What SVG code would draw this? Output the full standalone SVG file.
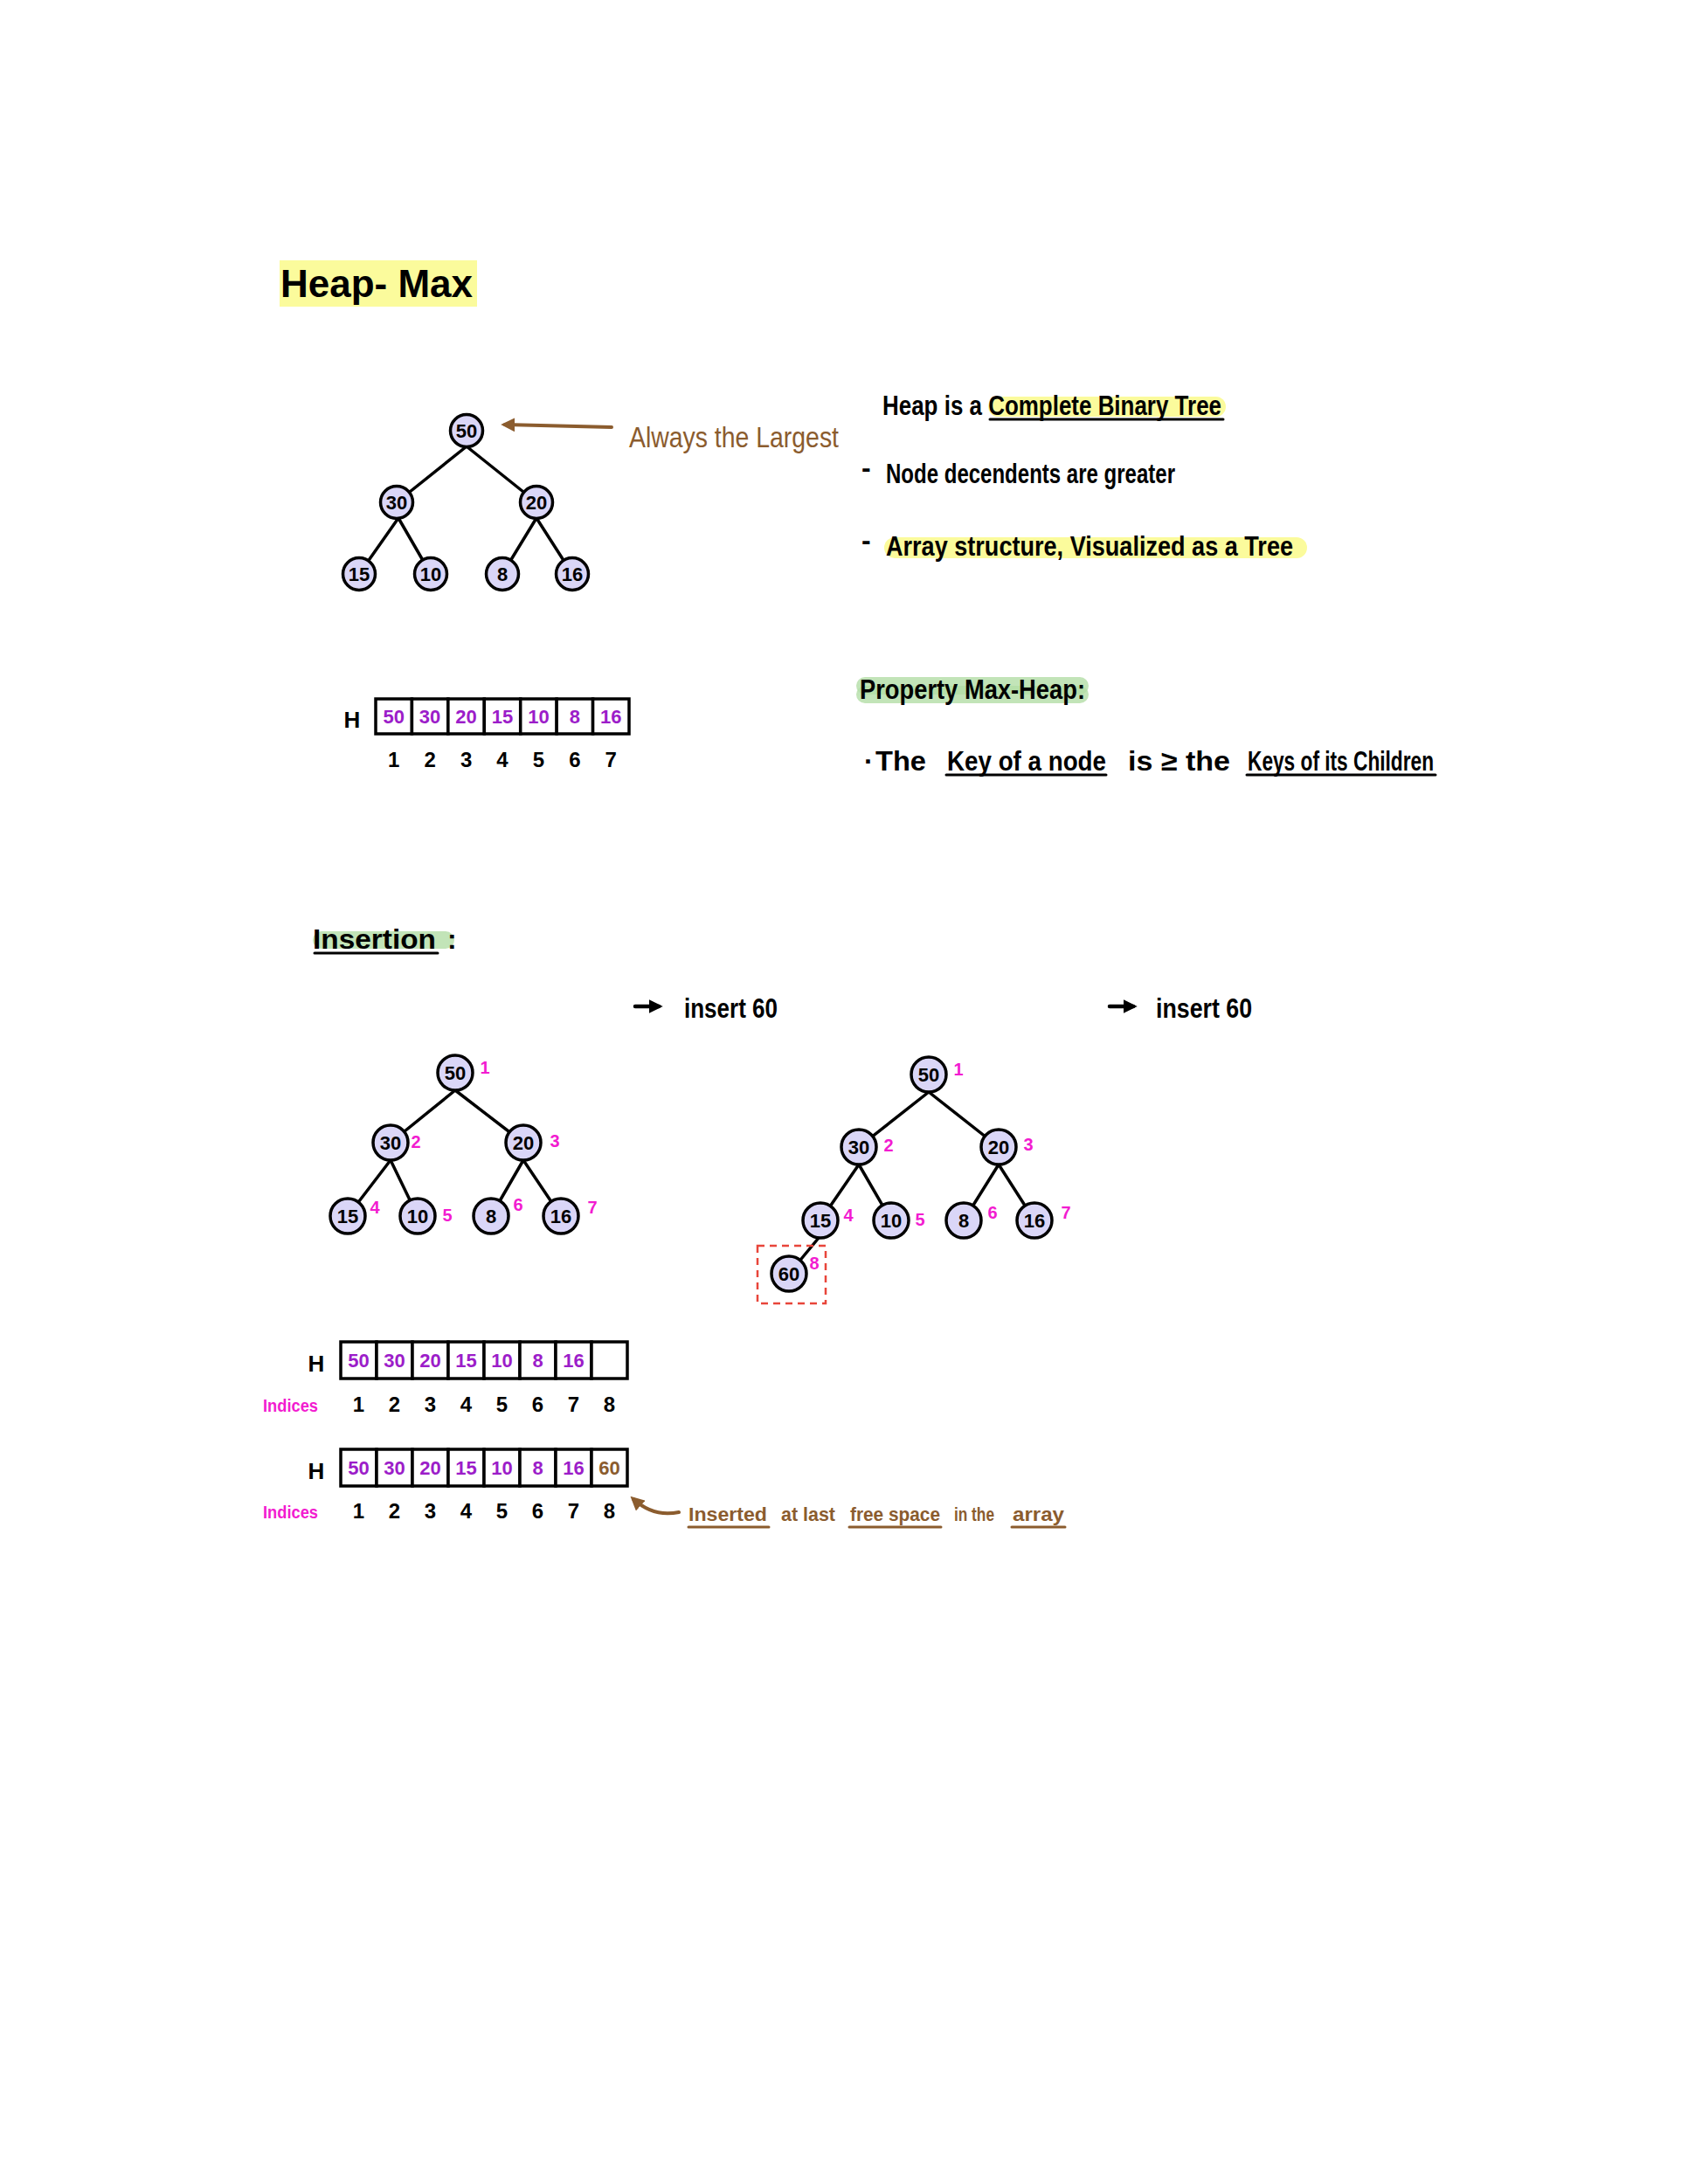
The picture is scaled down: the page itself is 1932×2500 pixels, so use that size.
<svg xmlns="http://www.w3.org/2000/svg" width="1932" height="2500" viewBox="0 0 1932 2500">
<style>
.node circle{fill:#dad6f7;stroke:#000;stroke-width:3.5}
.node text{font-family:"Liberation Sans",sans-serif;font-weight:bold;font-size:22px;text-anchor:middle;fill:#000}
.node text.idx{font-family:"Liberation Sans",sans-serif;font-weight:bold;font-size:20px;fill:#f21cd0;text-anchor:middle}
.edge{stroke:#000;stroke-width:3.5;stroke-linecap:round}
.cell{fill:#fff;stroke:#000;stroke-width:3.5}
.cv{font-family:"Liberation Sans",sans-serif;font-weight:bold;font-size:22px;fill:#9c1dc9;text-anchor:middle}
.cv.new{fill:#8b5c2e}
.num{font-family:"Liberation Sans",sans-serif;font-weight:bold;font-size:24px;fill:#000;text-anchor:middle}
.hw{font-family:"Liberation Sans",sans-serif;font-size:32px;font-weight:bold;fill:#000}
.hwb{font-family:"Liberation Sans",sans-serif;font-size:34px;fill:#8b5c2e}
.note{font-family:"Liberation Sans",sans-serif;font-size:22px;font-weight:bold;fill:#8b5c2e}
.ul{stroke:#000;stroke-width:3;stroke-linecap:round}
.ulb{stroke:#8b5c2e;stroke-width:3;stroke-linecap:round}
.hy{fill:#fbfb9c}
.hg{fill:#b3dda6;opacity:0.8}
.H{font-family:"Liberation Sans",sans-serif;font-weight:bold;font-size:26px;fill:#000;text-anchor:middle}
.lbl{font-family:"Liberation Sans",sans-serif;font-weight:bold;font-size:20px;fill:#f21cd0}
</style>
<defs>
<marker id="ahBrown" viewBox="0 0 10 10" refX="7" refY="5" markerWidth="4" markerHeight="4" orient="auto"><path d="M0,0 L10,5 L0,10 z" fill="#8b5c2e"/></marker>
<marker id="ahBlack" viewBox="0 0 10 10" refX="7" refY="5" markerWidth="3.5" markerHeight="3.5" orient="auto"><path d="M0,0 L10,5 L0,10 z" fill="#000"/></marker>
</defs>
<rect width="1932" height="2500" fill="#fff"/>

<!-- Title -->
<g id="title">
<rect x="320" y="298" width="226" height="53" class="hy"/>
<text x="321" y="340" font-family="Liberation Sans, sans-serif" font-weight="bold" font-size="44" fill="#000">Heap- Max</text>
</g>

<!-- Connectors -->
<g id="connectors">
<line class="edge" x1="534" y1="511" x2="454" y2="575"/>
<line class="edge" x1="534" y1="511" x2="614" y2="575"/>
<line class="edge" x1="456" y1="593" x2="411" y2="657"/>
<line class="edge" x1="456" y1="593" x2="493" y2="657"/>
<line class="edge" x1="614" y1="593" x2="575" y2="657"/>
<line class="edge" x1="614" y1="593" x2="655" y2="657"/>

<line class="edge" x1="521" y1="1248" x2="447" y2="1308"/>
<line class="edge" x1="521" y1="1248" x2="599" y2="1308"/>
<line class="edge" x1="447" y1="1328" x2="398" y2="1392"/>
<line class="edge" x1="447" y1="1328" x2="478" y2="1392"/>
<line class="edge" x1="599" y1="1328" x2="562" y2="1392"/>
<line class="edge" x1="599" y1="1328" x2="642" y2="1392"/>

<line class="edge" x1="1063" y1="1250" x2="983" y2="1313"/>
<line class="edge" x1="1063" y1="1250" x2="1143" y2="1313"/>
<line class="edge" x1="983" y1="1333" x2="939" y2="1397"/>
<line class="edge" x1="983" y1="1333" x2="1020" y2="1397"/>
<line class="edge" x1="1143" y1="1333" x2="1103" y2="1397"/>
<line class="edge" x1="1143" y1="1333" x2="1184" y2="1397"/>
<line class="edge" x1="937" y1="1417" x2="903" y2="1458"/>

<line x1="700" y1="489" x2="578" y2="486" stroke="#8b5c2e" stroke-width="4" stroke-linecap="round" marker-end="url(#ahBrown)"/>
<line x1="727" y1="1152" x2="754" y2="1152" stroke="#000" stroke-width="4.5" stroke-linecap="round" marker-end="url(#ahBlack)"/>
<line x1="1270" y1="1152" x2="1297" y2="1152" stroke="#000" stroke-width="4.5" stroke-linecap="round" marker-end="url(#ahBlack)"/>
<path d="M777 1731 Q748 1737 725 1716" fill="none" stroke="#8b5c2e" stroke-width="4" stroke-linecap="round" marker-end="url(#ahBrown)"/>
</g>

<!-- Top tree -->
<g id="t50" class="node"><circle cx="534" cy="493" r="18.5"/><text x="534" y="501">50</text></g>
<g id="t30" class="node"><circle cx="454" cy="575" r="18.5"/><text x="454" y="583">30</text></g>
<g id="t20" class="node"><circle cx="614" cy="575" r="18.5"/><text x="614" y="583">20</text></g>
<g id="t15" class="node"><circle cx="411" cy="657" r="18.5"/><text x="411" y="665">15</text></g>
<g id="t10" class="node"><circle cx="493" cy="657" r="18.5"/><text x="493" y="665">10</text></g>
<g id="t8" class="node"><circle cx="575" cy="657" r="18.5"/><text x="575" y="665">8</text></g>
<g id="t16" class="node"><circle cx="655" cy="657" r="18.5"/><text x="655" y="665">16</text></g>

<g id="note-largest">
<text x="720" y="512" class="hwb" textLength="240" lengthAdjust="spacingAndGlyphs">Always the Largest</text>
</g>

<!-- Right text -->
<g id="def-heap">
<rect x="1131" y="454" width="272" height="23" rx="11.5" class="hy"/>
<text x="1010" y="475" class="hw" textLength="388" lengthAdjust="spacingAndGlyphs">Heap is a Complete Binary Tree</text>
<line class="ul" x1="1133" y1="480" x2="1400" y2="480"/>
</g>
<g id="def-node">
<text x="986" y="546" class="hw">-</text>
<text x="1014" y="553" class="hw" textLength="331" lengthAdjust="spacingAndGlyphs">Node decendents are greater</text>
</g>
<g id="def-array">
<rect x="1012" y="615" width="484" height="24" rx="12" class="hy"/>
<text x="986" y="629" class="hw">-</text>
<text x="1014" y="636" class="hw" textLength="466" lengthAdjust="spacingAndGlyphs">Array structure, Visualized as a Tree</text>
</g>

<g id="property">
<rect x="980" y="775" width="266" height="20" rx="10" class="hg"/>
<rect x="980" y="785" width="266" height="20" rx="10" class="hg"/>
<text x="984" y="800" class="hw" textLength="258" lengthAdjust="spacingAndGlyphs">Property Max-Heap:</text>
</g>
<g id="property-rule">
<text x="989" y="882" class="hw">·</text>
<text x="1002" y="882" class="hw" textLength="58" lengthAdjust="spacingAndGlyphs">The</text>
<text x="1084" y="882" class="hw" textLength="182" lengthAdjust="spacingAndGlyphs">Key of a node</text>
<text x="1291" y="882" class="hw" textLength="117" lengthAdjust="spacingAndGlyphs">is ≥ the</text>
<text x="1428" y="882" class="hw" textLength="213" lengthAdjust="spacingAndGlyphs">Keys of its Children</text>
<line class="ul" x1="1083" y1="887" x2="1266" y2="887"/>
<line class="ul" x1="1427" y1="887" x2="1643" y2="887"/>
</g>

<!-- Top array -->
<g id="array-top">
<text x="403" y="833" class="H">H</text>
<rect class="cell" x="430" y="800" width="41.43" height="40"/>
<rect class="cell" x="471.43" y="800" width="41.43" height="40"/>
<rect class="cell" x="512.86" y="800" width="41.43" height="40"/>
<rect class="cell" x="554.29" y="800" width="41.43" height="40"/>
<rect class="cell" x="595.71" y="800" width="41.43" height="40"/>
<rect class="cell" x="637.14" y="800" width="41.43" height="40"/>
<rect class="cell" x="678.57" y="800" width="41.43" height="40"/>
<text class="cv" x="450.7" y="828">50</text>
<text class="cv" x="492.1" y="828">30</text>
<text class="cv" x="533.6" y="828">20</text>
<text class="cv" x="575" y="828">15</text>
<text class="cv" x="616.4" y="828">10</text>
<text class="cv" x="657.9" y="828">8</text>
<text class="cv" x="699.3" y="828">16</text>
<text class="num" x="450.7" y="878">1</text>
<text class="num" x="492.1" y="878">2</text>
<text class="num" x="533.6" y="878">3</text>
<text class="num" x="575" y="878">4</text>
<text class="num" x="616.4" y="878">5</text>
<text class="num" x="657.9" y="878">6</text>
<text class="num" x="699.3" y="878">7</text>
</g>

<!-- Insertion -->
<g id="insertion-title">
<rect x="358" y="1066" width="162" height="20" rx="10" class="hg"/>
<text x="358" y="1086" class="hw" textLength="141" lengthAdjust="spacingAndGlyphs">Insertion</text>
<text x="512" y="1086" class="hw">:</text>
<line class="ul" x1="360" y1="1091" x2="501" y2="1091"/>
</g>
<g id="insert-1"><text x="783" y="1165" class="hw" font-size="30" textLength="107" lengthAdjust="spacingAndGlyphs">insert 60</text></g>
<g id="insert-2"><text x="1323" y="1165" class="hw" font-size="30" textLength="110" lengthAdjust="spacingAndGlyphs">insert 60</text></g>

<!-- Left insertion tree -->
<g id="L50" class="node"><circle cx="521" cy="1228" r="20"/><text x="521" y="1236">50</text><text class="idx" x="555" y="1229">1</text></g>
<g id="L30" class="node"><circle cx="447" cy="1308" r="20"/><text x="447" y="1316">30</text><text class="idx" x="476" y="1314">2</text></g>
<g id="L20" class="node"><circle cx="599" cy="1308" r="20"/><text x="599" y="1316">20</text><text class="idx" x="635" y="1313">3</text></g>
<g id="L15" class="node"><circle cx="398" cy="1392" r="20"/><text x="398" y="1400">15</text><text class="idx" x="429" y="1389">4</text></g>
<g id="L10" class="node"><circle cx="478" cy="1392" r="20"/><text x="478" y="1400">10</text><text class="idx" x="512" y="1398">5</text></g>
<g id="L8" class="node"><circle cx="562" cy="1392" r="20"/><text x="562" y="1400">8</text><text class="idx" x="593" y="1386">6</text></g>
<g id="L16" class="node"><circle cx="642" cy="1392" r="20"/><text x="642" y="1400">16</text><text class="idx" x="678" y="1389">7</text></g>

<!-- Right insertion tree -->
<g id="R50" class="node"><circle cx="1063" cy="1230" r="20"/><text x="1063" y="1238">50</text><text class="idx" x="1097" y="1231">1</text></g>
<g id="R30" class="node"><circle cx="983" cy="1313" r="20"/><text x="983" y="1321">30</text><text class="idx" x="1017" y="1318">2</text></g>
<g id="R20" class="node"><circle cx="1143" cy="1313" r="20"/><text x="1143" y="1321">20</text><text class="idx" x="1177" y="1317">3</text></g>
<g id="R15" class="node"><circle cx="939" cy="1397" r="20"/><text x="939" y="1405">15</text><text class="idx" x="971" y="1398">4</text></g>
<g id="R10" class="node"><circle cx="1020" cy="1397" r="20"/><text x="1020" y="1405">10</text><text class="idx" x="1053" y="1403">5</text></g>
<g id="R8" class="node"><circle cx="1103" cy="1397" r="20"/><text x="1103" y="1405">8</text><text class="idx" x="1136" y="1395">6</text></g>
<g id="R16" class="node"><circle cx="1184" cy="1397" r="20"/><text x="1184" y="1405">16</text><text class="idx" x="1220" y="1395">7</text></g>
<g id="R60" class="node"><circle cx="903" cy="1458" r="20"/><text x="903" y="1466">60</text><text class="idx" x="932" y="1453">8</text></g>
<g id="new-node-box"><rect x="867" y="1426" width="78" height="66" fill="none" stroke="#e8453a" stroke-width="2.5" stroke-dasharray="8 6"/></g>

<!-- Bottom arrays -->
<g id="array-before">
<text x="362" y="1570" class="H">H</text>
<rect class="cell" x="390" y="1536" width="41" height="42"/>
<rect class="cell" x="431" y="1536" width="41" height="42"/>
<rect class="cell" x="472" y="1536" width="41" height="42"/>
<rect class="cell" x="513" y="1536" width="41" height="42"/>
<rect class="cell" x="554" y="1536" width="41" height="42"/>
<rect class="cell" x="595" y="1536" width="41" height="42"/>
<rect class="cell" x="636" y="1536" width="41" height="42"/>
<rect class="cell" x="677" y="1536" width="41" height="42"/>
<text class="cv" x="410.5" y="1565">50</text>
<text class="cv" x="451.5" y="1565">30</text>
<text class="cv" x="492.5" y="1565">20</text>
<text class="cv" x="533.5" y="1565">15</text>
<text class="cv" x="574.5" y="1565">10</text>
<text class="cv" x="615.5" y="1565">8</text>
<text class="cv" x="656.5" y="1565">16</text>
<text class="lbl" x="301" y="1616" textLength="63" lengthAdjust="spacingAndGlyphs">Indices</text>
<text class="num" x="410.5" y="1616">1</text>
<text class="num" x="451.5" y="1616">2</text>
<text class="num" x="492.5" y="1616">3</text>
<text class="num" x="533.5" y="1616">4</text>
<text class="num" x="574.5" y="1616">5</text>
<text class="num" x="615.5" y="1616">6</text>
<text class="num" x="656.5" y="1616">7</text>
<text class="num" x="697.5" y="1616">8</text>
</g>

<g id="array-after">
<text x="362" y="1693" class="H">H</text>
<rect class="cell" x="390" y="1659" width="41" height="42"/>
<rect class="cell" x="431" y="1659" width="41" height="42"/>
<rect class="cell" x="472" y="1659" width="41" height="42"/>
<rect class="cell" x="513" y="1659" width="41" height="42"/>
<rect class="cell" x="554" y="1659" width="41" height="42"/>
<rect class="cell" x="595" y="1659" width="41" height="42"/>
<rect class="cell" x="636" y="1659" width="41" height="42"/>
<rect class="cell" x="677" y="1659" width="41" height="42"/>
<text class="cv" x="410.5" y="1688">50</text>
<text class="cv" x="451.5" y="1688">30</text>
<text class="cv" x="492.5" y="1688">20</text>
<text class="cv" x="533.5" y="1688">15</text>
<text class="cv" x="574.5" y="1688">10</text>
<text class="cv" x="615.5" y="1688">8</text>
<text class="cv" x="656.5" y="1688">16</text>
<text class="cv new" x="697.5" y="1688">60</text>
<text class="lbl" x="301" y="1738" textLength="63" lengthAdjust="spacingAndGlyphs">Indices</text>
<text class="num" x="410.5" y="1738">1</text>
<text class="num" x="451.5" y="1738">2</text>
<text class="num" x="492.5" y="1738">3</text>
<text class="num" x="533.5" y="1738">4</text>
<text class="num" x="574.5" y="1738">5</text>
<text class="num" x="615.5" y="1738">6</text>
<text class="num" x="656.5" y="1738">7</text>
<text class="num" x="697.5" y="1738">8</text>
</g>

<g id="note-inserted">
<text x="788" y="1741" class="note" textLength="90" lengthAdjust="spacingAndGlyphs">Inserted</text>
<text x="894" y="1741" class="note" textLength="62" lengthAdjust="spacingAndGlyphs">at last</text>
<text x="973" y="1741" class="note" textLength="103" lengthAdjust="spacingAndGlyphs">free space</text>
<text x="1092" y="1741" class="note" textLength="46" lengthAdjust="spacingAndGlyphs">in the</text>
<text x="1159" y="1741" class="note" textLength="59" lengthAdjust="spacingAndGlyphs">array</text>
<line class="ulb" x1="788" y1="1748" x2="880" y2="1748"/>
<line class="ulb" x1="972" y1="1748" x2="1077" y2="1748"/>
<line class="ulb" x1="1158" y1="1748" x2="1219" y2="1748"/>
</g>
</svg>
